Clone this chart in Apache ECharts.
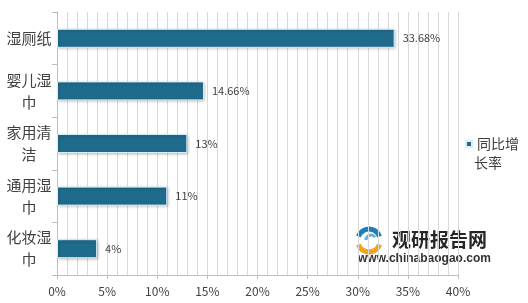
<!DOCTYPE html>
<html>
<head>
<meta charset="utf-8">
<script src="https://cdn.jsdelivr.net/npm/echarts@6/dist/echarts.min.js"></script>
<style>
html,body{margin:0;padding:0;background:#fff;}
#c{width:528px;height:303px;}
</style>
</head>
<body>
<div id="c"></div>
<script>
const categories = ['湿厕纸', '婴儿湿\n巾', '家用清\n洁', '通用湿\n巾', '化妆湿\n巾'];
const values = [33.68, 14.66, 13, 11, 4];
const valueLabels = ['33.68%', '14.66%', '13%', '11%', '4%'];
const seriesName = '同比增长率';
const legendLines = ['同比增', '长率'];
const xTicks = [0, 5, 10, 15, 20, 25, 30, 35, 40];

const chart = echarts.init(document.getElementById('c'), null, {renderer: 'canvas'});
const font = '"Microsoft YaHei","Noto Sans CJK SC",sans-serif';
chart.setOption({
  animation: false,
  backgroundColor: '#fff',
  grid: {left: 57, right: 70, top: 12, bottom: 28},
  legend: {
    show: true,
    data: [seriesName],
    left: 465,
    top: 133,
    padding: 0,
    itemWidth: 6,
    itemHeight: 6,
    icon: 'rect',
    itemGap: 3,
    formatter: () => legendLines[0],
    textStyle: {fontSize: 14, color: '#404040', fontFamily: font, lineHeight: 22}
  },
  xAxis: {
    type: 'value',
    min: xTicks[0],
    max: xTicks[xTicks.length - 1],
    interval: 5,
    axisLine: {show: true, lineStyle: {color: '#bfbfbf'}},
    axisTick: {show: true, length: 4, lineStyle: {color: '#bfbfbf'}},
    axisLabel: {formatter: v => v + '%', fontSize: 12, color: '#404040', margin: 10, fontFamily: font},
    splitLine: {show: true, lineStyle: {color: '#d9d9d9', width: 1}},
    minorTick: {show: false, splitNumber: 5},
    minorSplitLine: {show: true, lineStyle: {color: '#d9d9d9', width: 1}}
  },
  yAxis: {
    type: 'category',
    data: categories,
    inverse: true,
    axisLine: {show: true, lineStyle: {color: '#bfbfbf'}},
    axisTick: {show: true, length: 5, lineStyle: {color: '#bfbfbf'}},
    axisLabel: {fontSize: 15, color: '#404040', align: 'center', margin: 28, lineHeight: 22, fontFamily: font},
    splitLine: {show: false}
  },
  series: [{
    name: seriesName,
    type: 'bar',
    data: values,
    barWidth: 19,
    itemStyle: {
      color: '#1f6b8c',
      borderColor: '#d6eef8',
      borderWidth: 1,
      shadowColor: 'rgba(0,0,0,0.25)',
      shadowBlur: 3,
      shadowOffsetX: 1,
      shadowOffsetY: 1
    },
    label: {
      show: true,
      position: 'right',
      distance: 8,
      fontSize: 11,
      color: '#404040',
      fontFamily: font,
      formatter: p => valueLabels[p.dataIndex]
    }
  }],
  graphic: [
    {type: 'text', left: 474, top: 156, style: {text: legendLines[1], fontSize: 14, fill: '#404040', fontFamily: font}},
    {type: 'arc', shape: {cx: 369, cy: 240, r: 11, startAngle: Math.PI * 1.1, endAngle: Math.PI * 1.9}, style: {stroke: '#1e7fb8', lineWidth: 5, fill: null}},
    {type: 'arc', shape: {cx: 369, cy: 241, r: 11, startAngle: Math.PI * 0.1, endAngle: Math.PI * 0.9}, style: {stroke: '#f3a31b', lineWidth: 5, fill: null}},
    {type: 'arc', shape: {cx: 371, cy: 240, r: 5, startAngle: Math.PI * 1.0, endAngle: Math.PI * 1.8}, style: {stroke: '#5bb5d8', lineWidth: 3, fill: null}},
    {type: 'text', left: 392, top: 230, style: {text: '观研报告网', fontSize: 19, fontWeight: 'bold', fill: '#262626', fontFamily: font}},
    {type: 'text', left: 358, top: 253, style: {text: 'www.chinabaogao.com', fontSize: 12, fontWeight: 'bold', fill: '#333', fontFamily: '"Liberation Sans", Arial, sans-serif'}}
  ]
});
</script>
</body>
</html>
